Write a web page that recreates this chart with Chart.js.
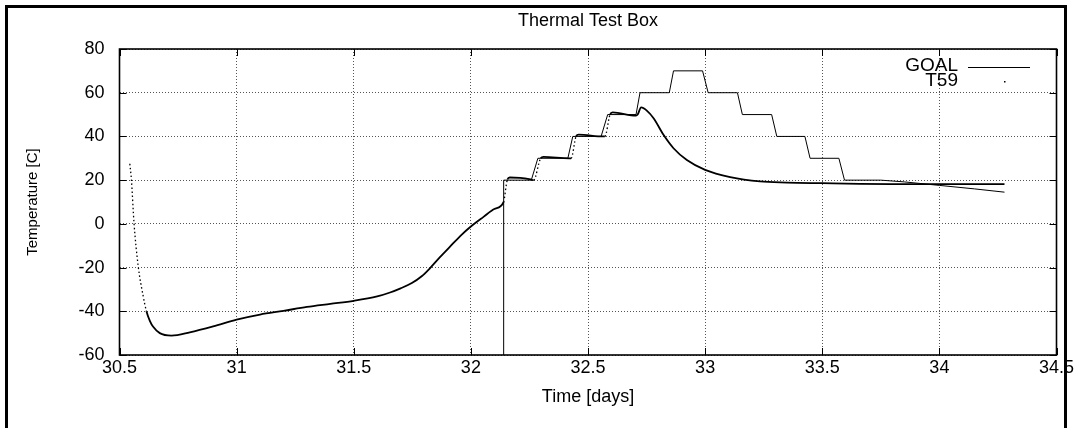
<!DOCTYPE html>
<html><head><meta charset="utf-8">
<script src="https://cdn.jsdelivr.net/npm/chart.js"></script>
<style>html,body{margin:0;padding:0;background:#fff;overflow:hidden}canvas{display:block}</style>
</head><body>
<canvas id="c" width="1077" height="428"></canvas>
<script>
const chartTitle = 'Thermal Test Box';
const xAxisTitle = 'Time [days]';
const yAxisTitle = 'Temperature [C]';
const seriesNames = ['GOAL', 'T59'];
const xTicks = [30.5, 31, 31.5, 32, 32.5, 33, 33.5, 34, 34.5];
const yTicks = [-60, -40, -20, 0, 20, 40, 60, 80];

const goalDays = [32.14, 32.14, 32.258, 32.286, 32.414, 32.435, 32.556, 32.584, 32.705, 32.722,
  32.847, 32.865, 32.989, 33.013, 33.138, 33.159, 33.284, 33.306, 33.426, 33.448,
  33.571, 33.595, 33.75, 33.85, 34.0, 34.15, 34.278];
const goalTemps = [-70, 20, 20, 30, 30, 40, 40, 50, 50, 60,
  60, 70, 70, 60, 60, 50, 50, 40, 40, 30,
  30, 20, 20, 19.2, 17.6, 16.0, 14.5];

const t59Days = [30.544, 30.551, 30.562, 30.580, 30.601, 30.615, 30.630, 30.643, 30.672, 30.722,
  30.80, 30.90, 31.00, 31.10, 31.20, 31.30, 31.40, 31.50, 31.60, 31.655,
  31.70, 31.748, 31.79, 31.826, 31.87, 31.911, 31.96, 32.00, 32.054, 32.10,
  32.14, 32.145, 32.150, 32.156, 32.166, 32.21, 32.255, 32.268, 32.298, 32.31,
  32.42, 32.428, 32.449, 32.46, 32.565, 32.572, 32.594, 32.605, 32.705, 32.712,
  32.727, 32.751, 32.78, 32.823, 32.865, 32.922, 33.0, 33.107, 33.234, 33.35,
  33.5, 33.66, 33.8, 34.0, 34.278];
const t59Temps = [27.5, 20, 0.3, -19.5, -33, -40, -44.5, -47, -50, -51.1,
  -49.6, -46.9, -43.8, -41.5, -39.8, -38.0, -36.6, -35.2, -33.2, -31.4,
  -29.5, -27.1, -24, -20.2, -15, -10.4, -5, -1.2, 3.2, 6.8,
  10, 13, 17, 20.3, 21.2, 21, 20.3, 20, 30, 30.6,
  30, 30, 40, 40.8, 40, 40, 50, 51, 49.5, 50,
  53.3, 51.8, 48.3, 40.6, 34.6, 29.2, 24.7, 21.4, 19.4, 18.9,
  18.6, 18.3, 18.2, 18.2, 18.2];

const FONT = "'Liberation Sans', Arial, Helvetica, sans-serif";
Chart.defaults.font.family = FONT;
Chart.defaults.color = '#000';

const toPts = (xs, ys) => xs.map((x, i) => ({x: x, y: ys[i]}));
const steep = c => Math.abs(c.p1.y - c.p0.y) > 3 * Math.abs(c.p1.x - c.p0.x);

const framePlugin = {
  id: 'framePlugin',
  afterDraw(chart) {
    const ctx = chart.ctx, a = chart.chartArea;
    const xs = chart.scales.x, ys = chart.scales.y;
    ctx.save();
    ctx.strokeStyle = '#000';
    ctx.lineWidth = 1.6;
    ctx.strokeRect(a.left, a.top, a.right - a.left, a.bottom - a.top);
    ctx.lineWidth = 1;
    const tl = 7;
    ctx.beginPath();
    xs.ticks.forEach(t => {
      const px = Math.round(xs.getPixelForValue(t.value)) + 0.5;
      ctx.moveTo(px, a.bottom); ctx.lineTo(px, a.bottom - tl);
      ctx.moveTo(px, a.top); ctx.lineTo(px, a.top + tl);
    });
    ys.ticks.forEach(t => {
      const py = Math.round(ys.getPixelForValue(t.value)) + 0.5;
      ctx.moveTo(a.left, py); ctx.lineTo(a.left + tl, py);
      ctx.moveTo(a.right, py); ctx.lineTo(a.right - tl, py);
    });
    ctx.stroke();
    const ds = chart.data.datasets;
    ctx.font = '19px ' + FONT;
    ctx.fillStyle = '#000';
    ctx.textAlign = 'right';
    ctx.textBaseline = 'middle';
    ctx.fillText(ds[0].label, 958, 66);
    ctx.fillText(ds[1].label, 958, 81);
    ctx.beginPath();
    ctx.lineWidth = 1;
    ctx.moveTo(968, 67.5); ctx.lineTo(1030, 67.5);
    ctx.stroke();
    ctx.fillRect(1004, 81, 1.5, 1.5);
    ctx.lineWidth = 3;
    ctx.beginPath();
    ctx.moveTo(6.5, 440); ctx.lineTo(6.5, 6.5); ctx.lineTo(1065.5, 6.5); ctx.lineTo(1065.5, 440);
    ctx.stroke();
    ctx.restore();
  }
};

new Chart(document.getElementById('c'), {
  type: 'scatter',
  data: {
    datasets: [
      {
        label: seriesNames[0],
        data: toPts(goalDays, goalTemps),
        showLine: true,
        borderColor: '#000',
        backgroundColor: '#000',
        borderWidth: 1,
        pointRadius: 0,
        tension: 0
      },
      {
        label: seriesNames[1],
        data: toPts(t59Days, t59Temps),
        showLine: true,
        borderColor: '#000',
        backgroundColor: '#000',
        borderWidth: 1.8,
        pointRadius: 0,
        cubicInterpolationMode: 'monotone',
        segment: {
          borderDash: c => steep(c) ? [1.5, 2.5] : undefined,
          borderWidth: c => steep(c) ? 1.3 : undefined
        }
      }
    ]
  },
  options: {
    responsive: false,
    animation: false,
    devicePixelRatio: 1,
    layout: {padding: {left: 0, right: 20.5, top: 0, bottom: 0}},
    plugins: {
      legend: {display: false},
      tooltip: {enabled: false},
      title: {display: false}
    },
    scales: {
      x: {
        type: 'linear',
        position: 'bottom',
        min: xTicks[0],
        max: xTicks[xTicks.length - 1],
        afterBuildTicks: s => { s.ticks = xTicks.map(v => ({value: v})); },
        ticks: {font: {size: 18}, padding: 2, color: '#000', maxRotation: 0, autoSkip: false,
          callback: v => String(v)},
        grid: {color: '#555', lineWidth: 1, drawTicks: false},
        border: {display: false, dash: [1, 2]},
        title: {display: true, text: xAxisTitle, font: {size: 18}, color: '#000', padding: {top: 0, bottom: 20}},
        afterFit: s => { s.height = 73; s.paddingLeft = 0; s.paddingRight = 0; }
      },
      top: {
        type: 'linear',
        position: 'top',
        min: xTicks[0],
        max: xTicks[xTicks.length - 1],
        ticks: {display: false},
        grid: {display: false, drawTicks: false},
        border: {display: false},
        title: {display: true, text: chartTitle, font: {size: 18}, color: '#000', padding: {top: 10.2, bottom: 0}},
        afterFit: s => { s.height = 49; s.paddingLeft = 0; s.paddingRight = 0; }
      },
      y: {
        type: 'linear',
        min: yTicks[0],
        max: yTicks[yTicks.length - 1],
        afterBuildTicks: s => { s.ticks = yTicks.map(v => ({value: v})); },
        ticks: {font: {size: 18}, padding: 15, color: '#000', autoSkip: false, callback: v => String(v)},
        grid: {color: '#555', lineWidth: 1, drawTicks: false},
        border: {display: false, dash: [1, 2]},
        title: {display: true, text: yAxisTitle, font: {size: 15}, color: '#000', padding: {top: 24, bottom: 0}},
        afterFit: s => { s.width = 119.5; s.paddingTop = 0; s.paddingBottom = 0; }
      }
    }
  },
  plugins: [framePlugin]
});
</script>
</body></html>
